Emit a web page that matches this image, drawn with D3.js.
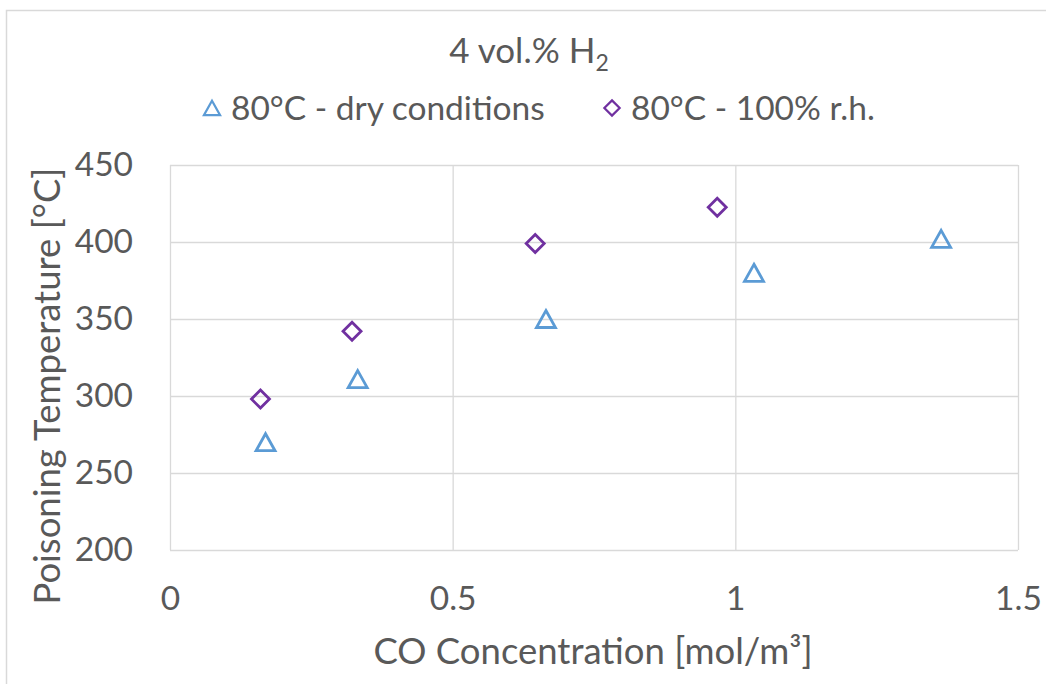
<!DOCTYPE html>
<html><head><meta charset="utf-8">
<script src="https://cdn.jsdelivr.net/npm/d3@7"></script>
<style>html,body{margin:0;padding:0;background:#fff;overflow:hidden}</style>
</head><body>
<svg id="chart" width="1046" height="684"></svg>
<script>
const title = "4 vol.% H";
const titleSub = "2";
const xLabel = "CO Concentration [mol/m³]";
const yLabel = "Poisoning Temperature [°C]";
const seriesNames = ["80°C - dry conditions", "80°C - 100% r.h."];
const dryX = [0.169, 0.332, 0.665, 1.033, 1.364];
const dryY = [270, 311, 350, 380, 402];
const wetX = [0.160, 0.322, 0.646, 0.968];
const wetY = [298, 342, 399, 422.5];
const xTicks = [0, 0.5, 1, 1.5];
const yTicks = [200, 250, 300, 350, 400, 450];
const colors = ["#5B9BD5", "#7030A0"];

const FONT = "Lato, 'Open Sans', sans-serif";
const textColor = "#595959";
const svg = d3.select("#chart");
const m = {left:170, right:1018, top:165, bottom:550};
const x = d3.scaleLinear().domain([0,1.5]).range([m.left, m.right]);
const y = d3.scaleLinear().domain([200,450]).range([m.bottom, m.top]);

// outer chart border (partially visible)
svg.append("rect").attr("x",6.5).attr("y",10.5).attr("width",1100).attr("height",800)
  .attr("fill","none").attr("stroke","#d9d9d9").attr("stroke-width",1.5);

// gridlines
const gx = svg.append("g").attr("transform",`translate(0,${m.bottom})`)
  .call(d3.axisBottom(x).tickValues(xTicks).tickSize(-(m.bottom-m.top)).tickFormat(d=>d3.format("")(d)).tickPadding(36));
const gy = svg.append("g").attr("transform",`translate(${m.left},0)`)
  .call(d3.axisLeft(y).tickValues(yTicks).tickSize(-(m.right-m.left)).tickPadding(37));
[gx,gy].forEach(g=>{
  g.select(".domain").remove();
  g.selectAll(".tick line").attr("stroke","#d9d9d9").attr("stroke-width",1.3);
  g.selectAll(".tick text").attr("fill",textColor).attr("font-family",FONT).attr("font-size",33.5);
});
gx.selectAll(".tick text").attr("dy","0.71em");

// title
const t = svg.append("text").attr("x",529).attr("y",63).attr("text-anchor","middle")
  .attr("font-family",FONT).attr("font-size",35).attr("fill",textColor);
t.append("tspan").text(title);
t.append("tspan").attr("font-size",23).attr("dy",8).text(titleSub);

// axis titles
svg.append("text").attr("x",593).attr("y",664).attr("text-anchor","middle")
  .attr("font-family",FONT).attr("font-size",36.5).attr("fill",textColor).text(xLabel);
svg.append("text").attr("transform","translate(60,386) rotate(-90)").attr("text-anchor","middle")
  .attr("font-family",FONT).attr("font-size",36.5).attr("fill",textColor).text(yLabel);

// marker shapes
function triPath(cx, cy){
  const h = 17, w = 19;
  return `M${cx},${cy-h/2}L${cx+w/2},${cy+h/2}L${cx-w/2},${cy+h/2}Z`;
}
function diaPath(cx, cy){
  const r = 9;
  return `M${cx},${cy-r}L${cx+r},${cy}L${cx},${cy+r}L${cx-r},${cy}Z`;
}

const dry = dryX.map((v,i)=>({x:v,y:dryY[i]}));
const wet = wetX.map((v,i)=>({x:v,y:wetY[i]}));
svg.append("g").selectAll("path").data(dry).join("path")
  .attr("d",d=>triPath(x(d.x),y(d.y))).attr("fill","none").attr("stroke",colors[0]).attr("stroke-width",2.8);
svg.append("g").selectAll("path").data(wet).join("path")
  .attr("d",d=>diaPath(x(d.x),y(d.y))).attr("fill","none").attr("stroke",colors[1]).attr("stroke-width",2.8);

// legend
const legend = [{name:seriesNames[0], mx:212, tx:231, path:triPath},{name:seriesNames[1], mx:612, tx:631, path:diaPath}];
legend.forEach((l,i)=>{
  svg.append("path").attr("d",l.path(l.mx,108)).attr("fill","none").attr("stroke",colors[i]).attr("stroke-width",2.6)
    .attr("transform",`translate(${l.mx},108) scale(0.85) translate(${-l.mx},-108)`);
  svg.append("text").attr("x",l.tx).attr("y",120).attr("font-family",FONT).attr("font-size",33.5)
    .attr("fill",textColor).text(l.name);
});
</script>
</body></html>
